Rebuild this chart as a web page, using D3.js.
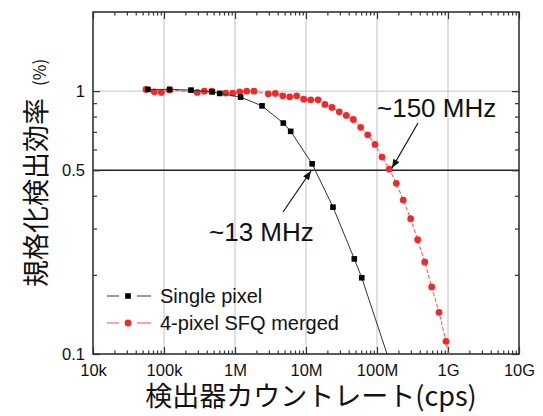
<!DOCTYPE html>
<html>
<head>
<meta charset="utf-8">
<script src="https://cdn.jsdelivr.net/npm/d3@7"></script>
<style>
  body { margin: 0; background: #fff; }
  text { font-family: "Liberation Sans", Arial, sans-serif; fill: #111; }
  .jp { font-family: "Noto Sans CJK JP", sans-serif; }
</style>
</head>
<body>
<svg width="543" height="416"></svg>
<script>
// **** Data ****
// count rate (cps) and normalised efficiency
var singleRate = [5.96e4, 1.2e5, 2.4e5, 4.79e5, 6.09e5, 1.2e6, 2.4e6, 4.79e6, 6.09e6, 1.22e7, 2.4e7, 4.79e7, 6.1e7, 2.44e8];
var singleEff  = [1.015, 1.015, 1.009, 0.994, 0.980, 0.949, 0.879, 0.756, 0.703, 0.529, 0.362, 0.230, 0.195, 0.063];

var mergedRate = [5.58e4, 7.3e4, 9.16e4, 1.2e5, 2.94e5, 3.69e5, 4.7e5, 7.39e5, 9.29e5, 1.165e6, 1.46e6, 1.85e6,
                  2.94e6, 3.7e6, 4.7e6, 5.89e6, 7.4e6, 9.29e6, 1.165e7, 1.48e7, 1.85e7, 2.32e7, 2.94e7, 3.7e7,
                  4.64e7, 5.89e7, 7.4e7, 9.37e7, 1.176e8, 1.49e8, 1.87e8, 2.34e8, 2.98e8, 3.74e8, 4.7e8, 5.89e8,
                  7.47e8, 9.37e8, 1.175e9];
var mergedEff  = [1.015, 0.994, 0.989, 1.011, 0.989, 1.0, 1.0, 0.983, 0.983, 0.994, 1.0, 1.0,
                  0.977, 0.980, 0.960, 0.951, 0.960, 0.932, 0.927, 0.927, 0.890, 0.867, 0.834, 0.808,
                  0.780, 0.728, 0.682, 0.627, 0.561, 0.505, 0.446, 0.385, 0.327, 0.272, 0.224, 0.180,
                  0.144, 0.1117, 0.080];

var xTicks = [1e4, 1e5, 1e6, 1e7, 1e8, 1e9, 1e10];
var xTickLabels = ["10k", "100k", "1M", "10M", "100M", "1G", "10G"];
var yTicks = [0.1, 0.5, 1];
var yTickLabels = ["0.1", "0.5", "1"];
var yMinor = [0.2, 0.3, 0.4, 0.6, 0.7, 0.8, 0.9];

var seriesNames = ["Single pixel", "4-pixel SFQ merged"];
var notes = ["~150 MHz", "~13 MHz"];

// **** Scales ****
var plotL = 93, plotR = 519, plotT = 12, plotB = 354;
var x = d3.scaleLog().domain([1e4, 1e10]).range([plotL, plotR]);
var y = d3.scaleLog().domain([0.1, 2]).range([plotB, plotT]);

var xMinor = [];
xTicks.slice(0, -1).forEach(function(d) {
    for (var k = 2; k < 10; k++) xMinor.push(d * k);
});

var svg = d3.select("svg");
svg.append("rect").attr("width", 543).attr("height", 416).attr("fill", "#fff");

var defs = svg.append("defs");
defs.append("clipPath").attr("id", "plot")
  .append("rect").attr("x", plotL).attr("y", plotT)
  .attr("width", plotR - plotL).attr("height", plotB - plotT);

defs.append("marker").attr("id", "arrow")
    .attr("viewBox", "0 0 10 8").attr("refX", 10).attr("refY", 4)
    .attr("markerWidth", 10).attr("markerHeight", 7)
    .attr("markerUnits", "userSpaceOnUse").attr("orient", "auto")
  .append("path").attr("d", "M0,0L10,4L0,8z").attr("fill", "#111");

// **** Grid ****
svg.append("g").selectAll("line")
    .data(xTicks.slice(1, -1))
    .enter().append("line")
    .attr("x1", function(d) { return x(d); }).attr("x2", function(d) { return x(d); })
    .attr("y1", plotT).attr("y2", plotB)
    .attr("stroke", "#cfcfcf").attr("stroke-width", 1.3);

svg.append("line")
    .attr("x1", plotL).attr("x2", plotR)
    .attr("y1", y(1)).attr("y2", y(1))
    .attr("stroke", "#cfcfcf").attr("stroke-width", 1.3);

// 0.5 reference line
svg.append("line")
    .attr("x1", plotL).attr("x2", plotR)
    .attr("y1", y(0.5)).attr("y2", y(0.5))
    .attr("stroke", "#222").attr("stroke-width", 1.3);

// **** Axes (ticks inward on all sides) ****
function drawAxis(axisFn, scale, values, size, transform, labels) {
    var a = axisFn(scale).tickValues(values).tickSize(-size);
    if (labels) a.tickFormat(function(d, i) { return labels[i]; }).tickPadding(labels.pad);
    var g = svg.append("g").attr("transform", transform).call(a);
    g.select(".domain").remove();
    g.selectAll("line").attr("stroke", "#333").attr("stroke-width", 1.2);
    if (labels) {
        g.selectAll("text").attr("font-size", 16.5).attr("fill", "#111")
            .attr("font-family", "'Liberation Sans', Arial, sans-serif");
    } else {
        g.selectAll("text").remove();   // tick marks only
    }
    return g;
}

var xl = xTickLabels.slice(); xl.pad = 10;
var yl = yTickLabels.slice(); yl.pad = 8;

drawAxis(d3.axisBottom, x, xTicks, 7, "translate(0," + plotB + ")", xl);
drawAxis(d3.axisBottom, x, xMinor, 3.5, "translate(0," + plotB + ")");
drawAxis(d3.axisTop, x, xTicks, 7, "translate(0," + plotT + ")");
drawAxis(d3.axisTop, x, xMinor, 3.5, "translate(0," + plotT + ")");
drawAxis(d3.axisLeft, y, yTicks, 7, "translate(" + plotL + ",0)", yl);
drawAxis(d3.axisLeft, y, yMinor, 4, "translate(" + plotL + ",0)");
drawAxis(d3.axisRight, y, yTicks, 7, "translate(" + plotR + ",0)");
drawAxis(d3.axisRight, y, yMinor, 4, "translate(" + plotR + ",0)");

// frame
svg.append("rect")
    .attr("x", plotL).attr("y", plotT)
    .attr("width", plotR - plotL).attr("height", plotB - plotT)
    .attr("fill", "none").attr("stroke", "#333").attr("stroke-width", 1.6);

// **** Series ****
var line = d3.line()
    .x(function(d) { return x(d[0]); })
    .y(function(d) { return y(d[1]); });

var merged = d3.zip(mergedRate, mergedEff);
var single = d3.zip(singleRate, singleEff);

var plot = svg.append("g").attr("clip-path", "url(#plot)");

plot.append("path").datum(merged)
    .attr("d", line).attr("fill", "none")
    .attr("stroke", "#f25050").attr("stroke-width", 1)
    .attr("stroke-dasharray", "4,2");

plot.selectAll("circle.merged")
    .data(merged).enter().append("circle")
    .attr("class", "merged")
    .attr("cx", function(d) { return x(d[0]); })
    .attr("cy", function(d) { return y(d[1]); })
    .attr("r", 3.4)
    .attr("fill", "#ee2a2a");

plot.append("path").datum(single)
    .attr("d", line).attr("fill", "none")
    .attr("stroke", "#333").attr("stroke-width", 1);

plot.selectAll("rect.single")
    .data(single).enter().append("rect")
    .attr("class", "single")
    .attr("x", function(d) { return x(d[0]) - 2.8; })
    .attr("y", function(d) { return y(d[1]) - 2.8; })
    .attr("width", 5.6).attr("height", 5.6)
    .attr("fill", "#000");

// **** Annotations ****
svg.append("text")
    .attr("x", 377).attr("y", 117)
    .attr("font-size", 26)
    .text(notes[0]);
svg.append("line")
    .attr("x1", 418).attr("y1", 123).attr("x2", 392).attr("y2", 168)
    .attr("stroke", "#111").attr("stroke-width", 1.2)
    .attr("marker-end", "url(#arrow)");

svg.append("text")
    .attr("x", 209).attr("y", 241)
    .attr("font-size", 26)
    .text(notes[1]);
svg.append("line")
    .attr("x1", 283).attr("y1", 212).attr("x2", 311).attr("y2", 171)
    .attr("stroke", "#111").attr("stroke-width", 1.2)
    .attr("marker-end", "url(#arrow)");

// **** Legend ****
var legend = svg.append("g");
var legendY = [296, 323];
var legendColor = ["#333", "#f25050"];

legendY.forEach(function(ly, i) {
    legend.append("line").attr("x1", 107).attr("x2", 119).attr("y1", ly).attr("y2", ly)
        .attr("stroke", legendColor[i]).attr("stroke-width", 1);
    legend.append("line").attr("x1", 137).attr("x2", 151).attr("y1", ly).attr("y2", ly)
        .attr("stroke", legendColor[i]).attr("stroke-width", 1);
    legend.append("text").attr("x", 160).attr("y", ly + 7)
        .attr("font-size", 20).text(seriesNames[i]);
});
legend.append("rect").attr("x", 125.2).attr("y", legendY[0] - 2.8)
    .attr("width", 5.6).attr("height", 5.6).attr("fill", "#000");
legend.append("circle").attr("cx", 128).attr("cy", legendY[1]).attr("r", 3.4)
    .attr("fill", "#ee2a2a");

// **** Axis titles ****
svg.append("text")
    .attr("class", "jp")
    .attr("x", (plotL + plotR) / 2 + 5).attr("y", 406)
    .attr("text-anchor", "middle")
    .attr("font-size", 27)
    .text("検出器カウントレート(cps)");

var yTitle = svg.append("text")
    .attr("class", "jp")
    .attr("transform", "translate(46,287) rotate(-90)")
    .attr("font-size", 27);
yTitle.append("tspan").text("規格化検出効率");
yTitle.append("tspan").attr("dx", 12).attr("font-size", 17).text("(%)");
</script>
</body>
</html>
